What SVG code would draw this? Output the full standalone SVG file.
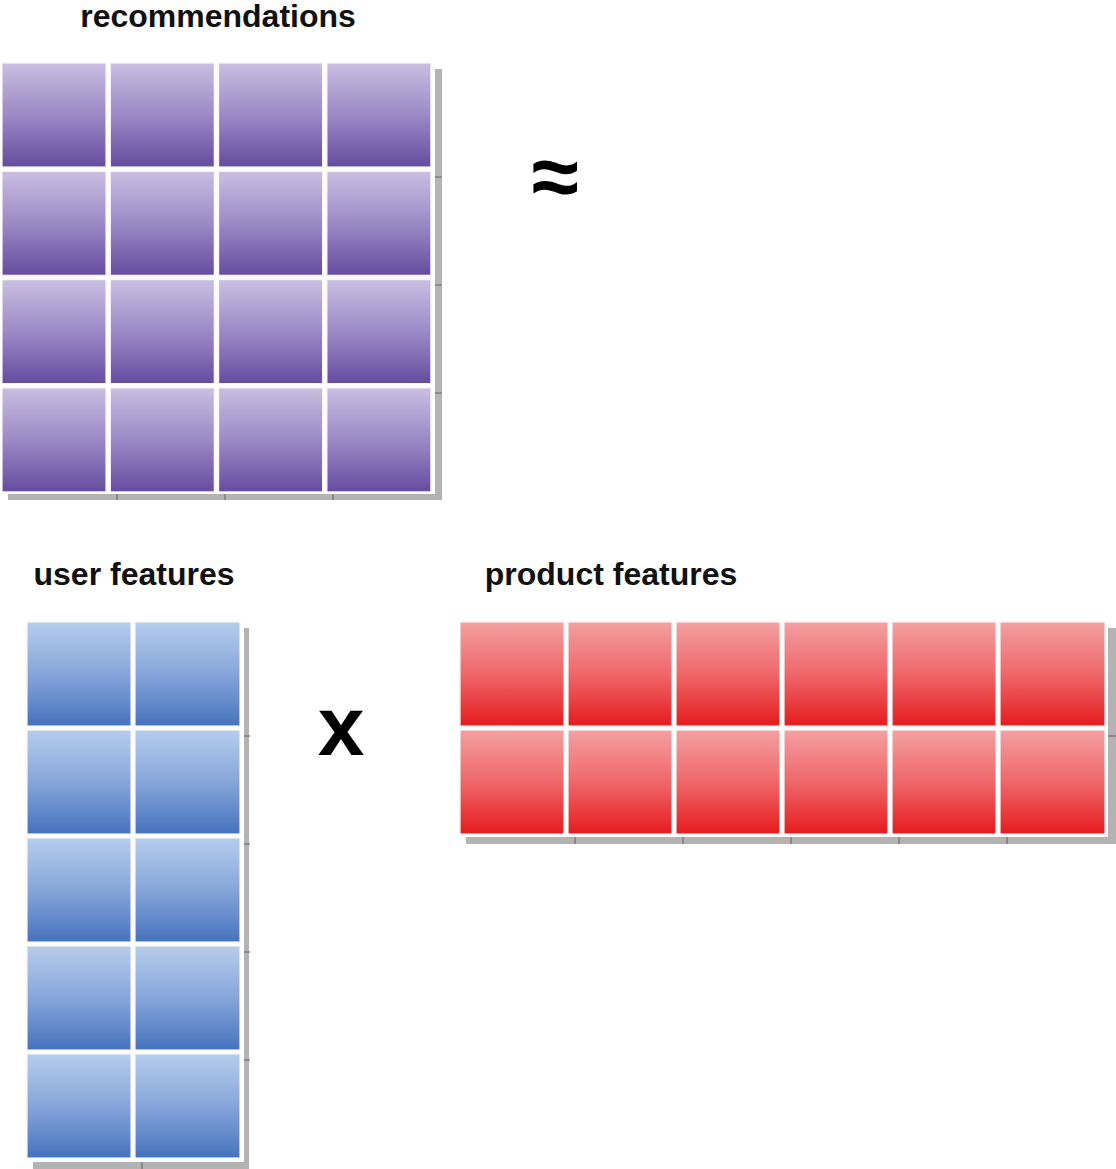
<svg xmlns="http://www.w3.org/2000/svg" width="1116" height="1169" viewBox="0 0 1116 1169">
<defs>
<linearGradient id="gP" x1="0" y1="0" x2="0" y2="1">
<stop offset="0" stop-color="#c9bfe1"/><stop offset="0.5" stop-color="#9c89c6"/><stop offset="1" stop-color="#654c9f"/>
</linearGradient>
<linearGradient id="gB" x1="0" y1="0" x2="0" y2="1">
<stop offset="0" stop-color="#b6cdec"/><stop offset="0.5" stop-color="#86a6da"/><stop offset="1" stop-color="#4672bd"/>
</linearGradient>
<linearGradient id="gR" x1="0" y1="0" x2="0" y2="1">
<stop offset="0" stop-color="#f4a0a3"/><stop offset="0.5" stop-color="#ef6769"/><stop offset="1" stop-color="#e61b1d"/>
</linearGradient>
</defs>
<style>
.lbl{font-family:"Liberation Sans",Arial,sans-serif;font-weight:bold;font-size:32px;fill:#111;}
.op{font-family:"Liberation Sans",Arial,sans-serif;font-weight:bold;fill:#000;}
.shadow{fill:#b3b3b3;}
.bg{fill:#ffffff;}
.tick{stroke:#6e6e6e;stroke-width:1.2;}
.cell{stroke:#fbf3f6;stroke-width:1.2;}
.p{fill:url(#gP);}
.b{fill:url(#gB);}
.r{fill:url(#gR);}
</style>
<rect width="1116" height="1169" fill="#ffffff"/>

<g id="recommendations">
<text class="lbl" x="218" y="27" text-anchor="middle">recommendations</text>
<rect class="shadow" x="8" y="69" width="434" height="431"/>
<rect class="bg" x="0" y="60" width="435" height="434"/>
<g class="tick">
<line x1="117" y1="494" x2="117" y2="500"/><line x1="225" y1="494" x2="225" y2="500"/><line x1="333" y1="494" x2="333" y2="500"/>
<line x1="435" y1="177" x2="442" y2="177"/><line x1="435" y1="285" x2="442" y2="285"/><line x1="435" y1="393" x2="442" y2="393"/>
</g>
<g class="cell p">
<rect x="2" y="63" width="104" height="104"/><rect x="110.3" y="63" width="104" height="104"/><rect x="218.6" y="63" width="104" height="104"/><rect x="326.9" y="63" width="104" height="104"/>
<rect x="2" y="171.3" width="104" height="104"/><rect x="110.3" y="171.3" width="104" height="104"/><rect x="218.6" y="171.3" width="104" height="104"/><rect x="326.9" y="171.3" width="104" height="104"/>
<rect x="2" y="279.6" width="104" height="104"/><rect x="110.3" y="279.6" width="104" height="104"/><rect x="218.6" y="279.6" width="104" height="104"/><rect x="326.9" y="279.6" width="104" height="104"/>
<rect x="2" y="387.9" width="104" height="104"/><rect x="110.3" y="387.9" width="104" height="104"/><rect x="218.6" y="387.9" width="104" height="104"/><rect x="326.9" y="387.9" width="104" height="104"/>
</g>
</g>

<g id="approx">
<text class="op" x="555" y="206" font-size="86" text-anchor="middle" font-family="DejaVu Sans">≈</text>
</g>

<g id="user-features">
<text class="lbl" x="134" y="585" text-anchor="middle">user features</text>
<rect class="shadow" x="33" y="628" width="216" height="541"/>
<rect class="bg" x="25" y="619" width="219" height="543"/>
<g class="tick">
<line x1="142" y1="1162" x2="142" y2="1169"/>
<line x1="244" y1="736" x2="250" y2="736"/><line x1="244" y1="844" x2="250" y2="844"/><line x1="244" y1="952" x2="250" y2="952"/><line x1="244" y1="1060" x2="250" y2="1060"/>
</g>
<g class="cell b">
<rect x="27" y="622" width="104" height="104"/><rect x="135" y="622" width="105" height="104"/>
<rect x="27" y="730" width="104" height="104"/><rect x="135" y="730" width="105" height="104"/>
<rect x="27" y="838" width="104" height="104"/><rect x="135" y="838" width="105" height="104"/>
<rect x="27" y="946" width="104" height="104"/><rect x="135" y="946" width="105" height="104"/>
<rect x="27" y="1054" width="104" height="104"/><rect x="135" y="1054" width="105" height="104"/>
</g>
</g>

<g id="times">
<text class="op" x="341" y="755" font-size="84" text-anchor="middle">x</text>
</g>

<g id="product-features">
<text class="lbl" x="611" y="585" text-anchor="middle">product features</text>
<rect class="shadow" x="466" y="628" width="650" height="216"/>
<rect class="bg" x="457" y="619" width="651" height="218"/>
<g class="tick">
<line x1="575" y1="837" x2="575" y2="844"/><line x1="683" y1="837" x2="683" y2="844"/><line x1="791" y1="837" x2="791" y2="844"/><line x1="899" y1="837" x2="899" y2="844"/><line x1="1007" y1="837" x2="1007" y2="844"/>
<line x1="1108" y1="736" x2="1116" y2="736"/>
</g>
<g class="cell r">
<rect x="460" y="622" width="104" height="104"/><rect x="568" y="622" width="104" height="104"/><rect x="676" y="622" width="104" height="104"/><rect x="784" y="622" width="104" height="104"/><rect x="892" y="622" width="104" height="104"/><rect x="1000" y="622" width="105" height="104"/>
<rect x="460" y="730" width="104" height="104"/><rect x="568" y="730" width="104" height="104"/><rect x="676" y="730" width="104" height="104"/><rect x="784" y="730" width="104" height="104"/><rect x="892" y="730" width="104" height="104"/><rect x="1000" y="730" width="105" height="104"/>
</g>
</g>
</svg>
